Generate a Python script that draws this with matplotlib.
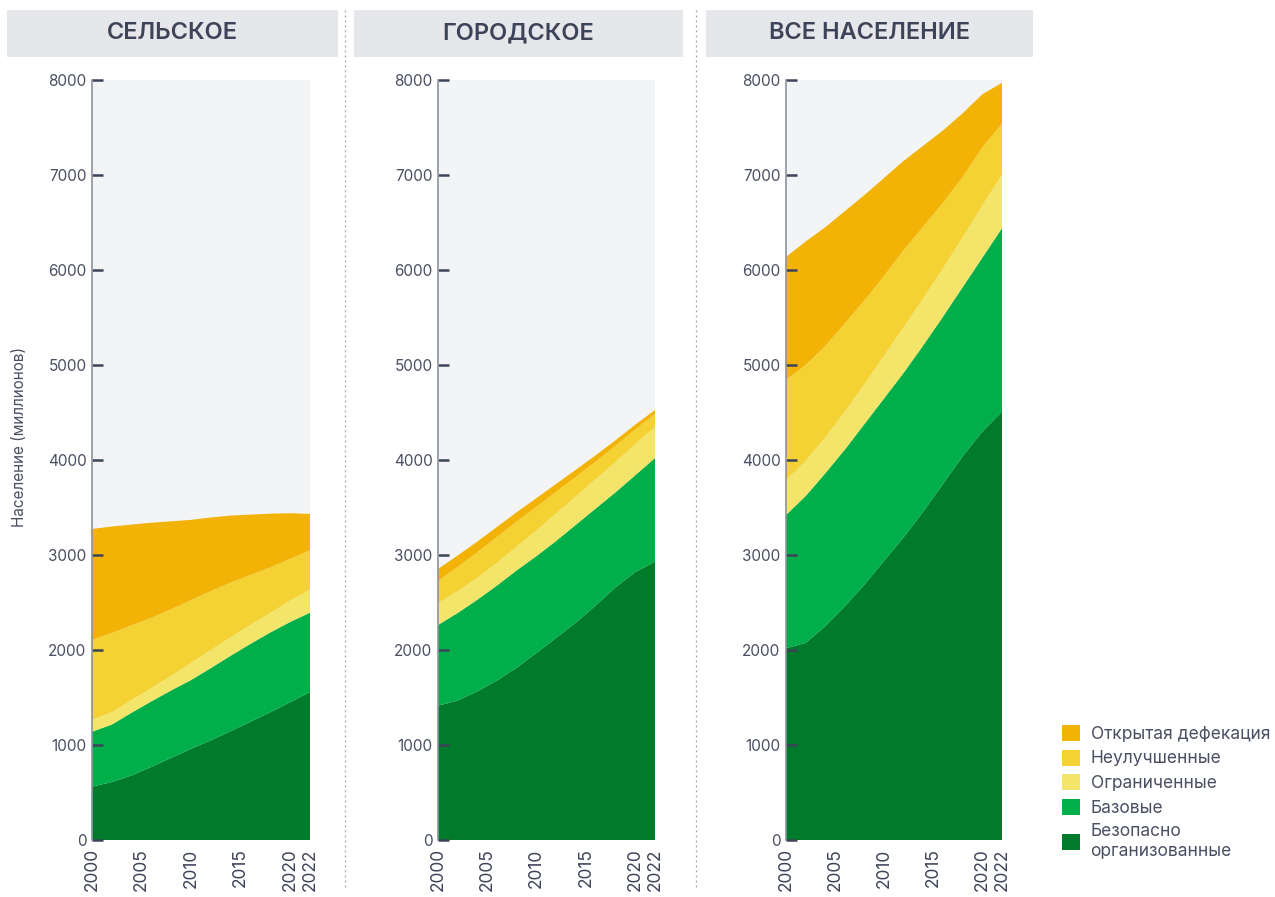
import numpy as np
import matplotlib.pyplot as plt
from matplotlib.patches import Patch, Rectangle
from matplotlib.lines import Line2D

plt.rcParams['font.family'] = ['Inter', 'DejaVu Sans']

# Years (every 2 years)
years = [2000, 2002, 2004, 2006, 2008, 2010, 2012, 2014, 2016, 2018, 2020, 2022]

# Rural population (millions) by service level
rural_safe = [561, 610, 680, 770, 865, 960, 1050, 1145, 1245, 1345, 1450, 1558]
rural_basic = [579, 605, 660, 690, 710, 724, 760, 795, 820, 840, 845, 835]
rural_limited = [126, 130, 135, 140, 155, 181, 190, 195, 200, 205, 225, 242]
rural_unimproved = [839, 835, 785, 740, 700, 661, 620, 575, 525, 480, 440, 415]
rural_open = [1169, 1120, 1060, 1000, 925, 844, 775, 705, 635, 565, 480, 382]

# Urban population (millions)
urban_safe = [1414, 1468, 1565, 1680, 1815, 1970, 2130, 2290, 2470, 2660, 2820, 2930]
urban_basic = [849, 922, 965, 1000, 1025, 1020, 1020, 1030, 1020, 1000, 1020, 1091]
urban_limited = [232, 230, 230, 240, 250, 270, 290, 300, 310, 320, 330, 326]
urban_unimproved = [231, 255, 270, 272, 265, 250, 228, 205, 185, 170, 152, 137]
urban_open = [127, 120, 112, 105, 97, 90, 82, 74, 66, 58, 50, 42]

# Total population (millions)
total_safe = [2018, 2075, 2250, 2460, 2690, 2940, 3190, 3460, 3750, 4040, 4300, 4509]
total_basic = [1403, 1545, 1610, 1650, 1690, 1710, 1730, 1750, 1760, 1780, 1830, 1931]
total_limited = [368, 370, 380, 400, 420, 450, 480, 495, 510, 525, 550, 565]
total_unimproved = [1053, 1010, 960, 930, 880, 840, 810, 755, 690, 635, 610, 535]
total_open = [1295, 1300, 1250, 1180, 1110, 1030, 940, 850, 760, 670, 560, 430]

panel_titles = ['СЕЛЬСКОЕ', 'ГОРОДСКОЕ', 'ВСЕ НАСЕЛЕНИЕ']
legend_labels = ['Открытая дефекация', 'Неулучшенные', 'Ограниченные', 'Базовые',
                 'Безопасно\nорганизованные']
xticks = [2000, 2005, 2010, 2015, 2020, 2022]
yticks = [0, 1000, 2000, 3000, 4000, 5000, 6000, 7000, 8000]

colors = ['#007a2b', '#00ae4a', '#f3e56a', '#f5d233', '#f2b306']  # bottom -> top
dark = '#3d4358'
text_col = '#4a4f63'

panels = [
    [rural_safe, rural_basic, rural_limited, rural_unimproved, rural_open],
    [urban_safe, urban_basic, urban_limited, urban_unimproved, urban_open],
    [total_safe, total_basic, total_limited, total_unimproved, total_open],
]

W, H = 1275, 897
fig = plt.figure(figsize=(W / 100, H / 100), dpi=100)

ax_left = [92, 438, 786]
ax_width = [218, 217, 216]
head_box = [(7, 338), (354, 683), (706, 1033)]

for i, series in enumerate(panels):
    ax = fig.add_axes([ax_left[i] / W, (H - 840) / H, ax_width[i] / W, 760 / H])
    ax.set_facecolor('#f3f4f6')
    ax.stackplot(years, *series, colors=colors, linewidth=0)
    ax.set_xlim(2000, 2022)
    ax.set_ylim(0, 8000)
    for s in ['top', 'right', 'bottom']:
        ax.spines[s].set_visible(False)
    ax.spines['left'].set_color('#8d92a1')
    ax.spines['left'].set_linewidth(1.2)
    ax.set_yticks(yticks)
    ax.set_xticks(xticks)
    ax.set_xticklabels([str(x) for x in xticks], rotation=90, fontsize=12.5, color=dark)
    ax.tick_params(axis='x', length=0, pad=6)
    ax.tick_params(axis='y', direction='in', length=8, width=1.8, color=dark,
                   labelsize=11, labelcolor=text_col, pad=4)

    # header box
    x0, x1 = head_box[i]
    fig.patches.append(Rectangle((x0 / W, (H - 57) / H), (x1 - x0) / W, 47 / H,
                                 transform=fig.transFigure, facecolor='#e6e7eb',
                                 edgecolor='none', zorder=0))
    fig.text((x0 + x1) / 2 / W, (H - 33) / H, panel_titles[i], ha='center', va='center',
             fontsize=17, fontweight='semibold', color=dark)

# dotted separators
for xs in [345, 696]:
    fig.add_artist(Line2D([xs / W, xs / W], [(H - 10) / H, (H - 890) / H],
                          transform=fig.transFigure, color='#a0a4ae',
                          linestyle=(0, (1.5, 2.5)), linewidth=0.9))

fig.text(20 / W, (H - 437) / H, 'Население (миллионов)', rotation=90, ha='center',
         va='center', fontsize=11, color=text_col)

handles = [Patch(facecolor=c, edgecolor='none') for c in colors[::-1]]
fig.legend(handles, legend_labels, loc='upper left',
           bbox_to_anchor=(1055 / W, (H - 718) / H), frameon=False,
           fontsize=12.5, labelcolor=text_col, handlelength=1.05, handleheight=1.05,
           handletextpad=0.6, labelspacing=0.38, borderaxespad=0)

fig.savefig('out.png', dpi=100)
